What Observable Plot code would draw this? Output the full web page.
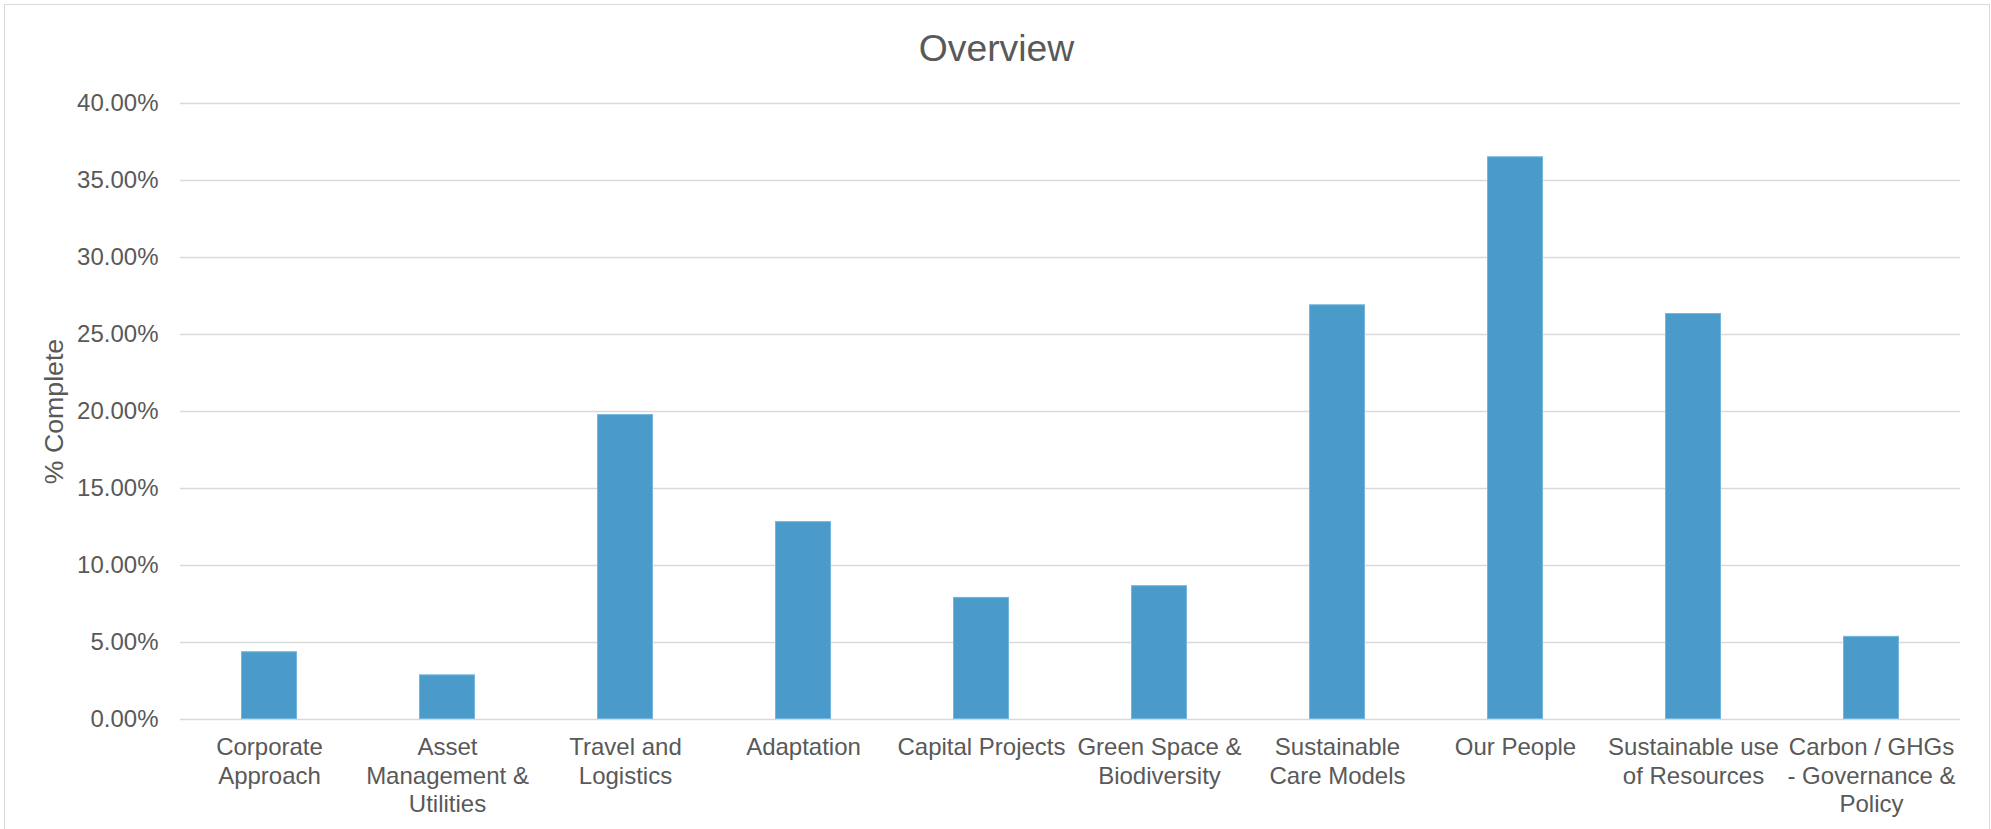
<!DOCTYPE html>
<html>
<head>
<meta charset="utf-8">
<script src="https://cdn.jsdelivr.net/npm/d3@7"></script>
<script src="https://cdn.jsdelivr.net/npm/@observablehq/plot@0.6"></script>
<style>
  html, body { margin: 0; padding: 0; overflow: hidden; background: #fff; width: 1991px; height: 829px; }
  #frame { position: absolute; left: 4px; top: 4px; width: 1986px; height: 900px; border: 1px solid #d9d9d9; box-sizing: border-box; }
  #title { position: absolute; left: 0; top: 30px; width: 1993px; text-align: center; font-family: "Liberation Sans", Arial, sans-serif; font-size: 37.3px; line-height: 37.3px; color: #595959; }
  #chart { position: absolute; left: 0; top: 80px; }
  #chart svg { display: block; }
</style>
</head>
<body>
<div id="frame"></div>
<div id="title">Overview</div>
<div id="chart"></div>
<script>
const categories = [
  "Corporate Approach",
  "Asset Management & Utilities",
  "Travel and Logistics",
  "Adaptation",
  "Capital Projects",
  "Green Space & Biodiversity",
  "Sustainable Care Models",
  "Our People",
  "Sustainable use of Resources",
  "Carbon / GHGs - Governance & Policy"
];
const tickLabels = [
  "Corporate\nApproach",
  "Asset\nManagement &\nUtilities",
  "Travel and\nLogistics",
  "Adaptation",
  "Capital Projects",
  "Green Space &\nBiodiversity",
  "Sustainable\nCare Models",
  "Our People",
  "Sustainable use\nof Resources",
  "Carbon / GHGs\n- Governance &\nPolicy"
];
const percentComplete = [4.40, 2.90, 19.80, 12.85, 7.93, 8.69, 26.93, 36.54, 26.36, 5.40];
const yTicks = [0, 0.05, 0.10, 0.15, 0.20, 0.25, 0.30, 0.35, 0.40];
const yTitle = "% Complete";

const data = categories.map((c, i) => ({category: c, value: percentComplete[i] / 100}));
const labelOf = new Map(categories.map((c, i) => [c, tickLabels[i]]));

const textColor = "#595959";
const font = "Liberation Sans, Arial, sans-serif";

const chart = Plot.plot({
  width: 1991,
  height: 749,
  marginTop: 23,
  marginBottom: 110,
  marginLeft: 180,
  marginRight: 31,
  style: {fontFamily: font, color: textColor, background: "transparent"},
  x: {type: "band", domain: categories, paddingInner: 0.685, paddingOuter: 0.3425, align: 0.5},
  y: {domain: [0, 0.40]},
  marks: [
    Plot.gridY(yTicks, {stroke: "#d9d9d9", strokeOpacity: 1, strokeWidth: 1.3}),
    Plot.barY(data, {x: "category", y: "value", fill: "#4a9bc9", stroke: "#74b6de", strokeWidth: 1, inset: 0.5}),
    Plot.axisY(yTicks, {
      tickFormat: d3.format(".2%"),
      tickSize: 0,
      tickPadding: 22,
      fontSize: 24,
      fill: textColor,
      label: null
    }),
    Plot.axisX({
      tickFormat: (d) => labelOf.get(d),
      tickSize: 0,
      tickPadding: 16,
      fontSize: 24,
      lineHeight: 1.17,
      fill: textColor,
      label: null
    }),
    Plot.text([yTitle], {
      text: (d) => d,
      frameAnchor: "left",
      textAnchor: "middle",
      rotate: -90,
      lineAnchor: "top",
      dx: -136,
      dy: 0,
      fontSize: 26.7,
      fill: textColor
    })
  ]
});
document.getElementById("chart").appendChild(chart);
</script>
</body>
</html>
